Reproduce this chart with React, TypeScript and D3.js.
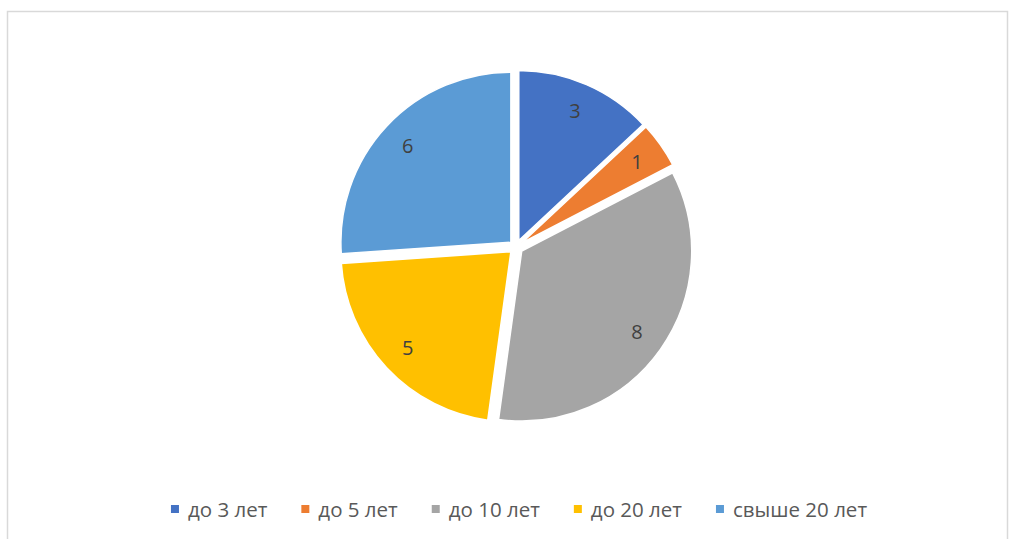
import React, { useEffect, useRef } from 'react';
import * as d3 from 'd3';

const categories = ['до 3 лет', 'до 5 лет', 'до 10 лет', 'до 20 лет', 'свыше 20 лет'];
const values = [3, 1, 8, 5, 6];
const colors = ['#4472C4', '#ED7D31', '#A5A5A5', '#FFC000', '#5B9BD5'];

const App = () => {
    const chartRef = useRef<SVGSVGElement | null>(null);

    useEffect(() => {
        if (!chartRef.current) return;
        const svg = d3.select(chartRef.current);
        svg.selectAll('*').remove();

        const width = 1011;
        const height = 539;
        const cx = 516;
        const cy = 247;
        const radius = 170;
        const explode = 7;
        const font = '"Open Sans", "Liberation Sans", Arial, sans-serif';

        svg.append('rect')
            .attr('x', 7.5)
            .attr('y', 11.5)
            .attr('width', width - 11)
            .attr('height', height)
            .attr('fill', '#fff')
            .attr('stroke', '#d9d9d9')
            .attr('stroke-width', 1.5);

        const data = categories.map((c, i) => ({ key: c, value: values[i], color: colors[i] }));

        const pie = d3.pie<any>().value(d => d.value).sort(null);
        const arcs = pie(data);

        const arc = d3.arc<any>().innerRadius(0).outerRadius(radius);
        const labelArc = d3.arc<any>().innerRadius(141).outerRadius(141);

        const g = svg.append('g').attr('transform', `translate(${cx},${cy})`);

        const slices = g.selectAll('g.slice')
            .data(arcs)
            .enter()
            .append('g')
            .attr('class', 'slice')
            .attr('transform', d => {
                const a = (d.startAngle + d.endAngle) / 2;
                return `translate(${Math.sin(a) * explode},${-Math.cos(a) * explode})`;
            });

        slices.append('path')
            .attr('d', arc)
            .attr('fill', d => d.data.color)
            .attr('stroke', '#fff')
            .attr('stroke-width', 1.5);

        slices.append('text')
            .attr('transform', d => `translate(${labelArc.centroid(d)})`)
            .attr('text-anchor', 'middle')
            .attr('dy', '0.35em')
            .attr('font-family', font)
            .attr('font-size', 20)
            .attr('fill', '#404040')
            .text(d => d.data.value);

        // legend
        const legend = svg.append('g').attr('transform', 'translate(0,510)');
        const items = legend.selectAll('g.item')
            .data(data)
            .enter()
            .append('g')
            .attr('class', 'item');

        items.append('rect')
            .attr('width', 8)
            .attr('height', 8)
            .attr('y', -5)
            .attr('fill', d => d.color);

        const texts = items.append('text')
            .attr('x', 17)
            .attr('dy', '0.35em')
            .attr('font-family', font)
            .attr('font-size', 20.5)
            .attr('fill', '#595959')
            .text(d => d.key);

        const widths: number[] = [];
        texts.each(function () {
            widths.push(17 + (this as SVGTextElement).getComputedTextLength());
        });
        const gap = 34;
        const total = d3.sum(widths) + gap * (widths.length - 1);
        let x = 519 - total / 2;
        items.attr('transform', (d, i) => {
            const t = `translate(${x},0)`;
            x += widths[i] + gap;
            return t;
        });
    }, []);

    return (
        <svg
            ref={chartRef}
            width={1011}
            height={539}
            style={{ position: 'absolute', left: 0, top: 0, background: '#fff' }}
        />
    );
};

export default App;
